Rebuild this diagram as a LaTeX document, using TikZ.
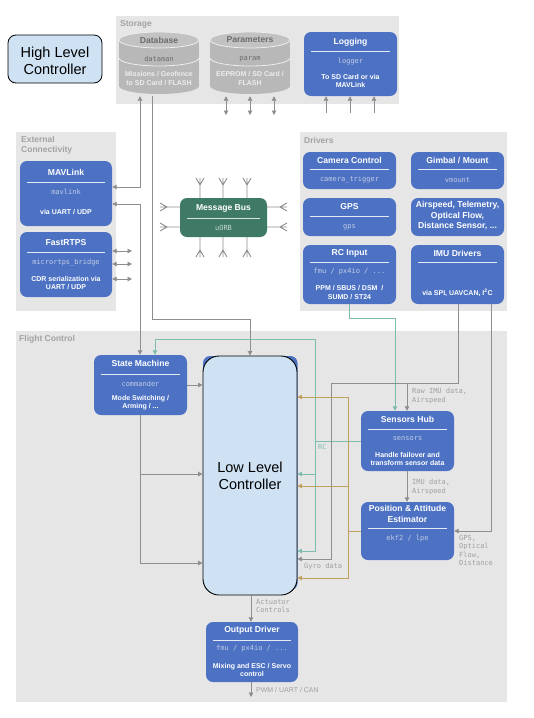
\documentclass[tikz,border=0pt]{standalone}
\usepackage{fontspec}
\setmainfont{Liberation Sans}
\setmonofont{DejaVu Sans Mono}
\usetikzlibrary{arrows.meta}
\definecolor{boxblue}{HTML}{4D72C3}
\definecolor{busgreen}{HTML}{3E7A66}
\definecolor{grpbg}{HTML}{E6E6E6}
\definecolor{grplc}{HTML}{A3A3A3}
\definecolor{lnc}{HTML}{8E8E8E}
\definecolor{tealc}{HTML}{7DBDB0}
\definecolor{goldc}{HTML}{BFA15E}
\definecolor{monoc}{HTML}{C3CCE6}
\definecolor{elc}{HTML}{A0A0A0}
\definecolor{llcfill}{HTML}{CFE2F3}
\definecolor{cylbody}{HTML}{B8B8B8}
\definecolor{cyltop}{HTML}{C2C2C2}
\definecolor{cyltxt}{HTML}{6B6B6B}
\definecolor{cyllow}{HTML}{EDEDED}
\begin{document}
\begin{tikzpicture}[x=1pt,y=-1pt,
  >={Triangle[length=4.5pt,width=4.5pt]},
  blk/.style={fill=boxblue, rounded corners=7pt, inner sep=0pt},
  bus/.style={fill=busgreen, rounded corners=7pt, inner sep=0pt},
  ttl/.style={text=white, font=\fontsize{8.6}{10.5}\selectfont\bfseries, inner sep=0pt, align=center},
  mono/.style={text=monoc, font=\ttfamily\fontsize{7}{8}\selectfont, inner sep=0pt},
  dsc/.style={text=white, font=\fontsize{7}{8.2}\selectfont\bfseries, inner sep=0pt, align=center},
  sepl/.style={draw=white!85!boxblue, line width=0.8pt},
  elbl/.style={text=elc, font=\ttfamily\fontsize{7}{8.3}\selectfont, inner sep=0pt, align=left, anchor=west},
  grpl/.style={text=grplc, font=\fontsize{8.5}{10}\selectfont\bfseries, inner sep=0pt, anchor=west, align=left},
  cylt/.style={text=cyltxt, font=\fontsize{8.6}{10}\selectfont\bfseries, inner sep=0pt},
  cylm/.style={text=cyltxt, font=\ttfamily\fontsize{7}{8}\selectfont, inner sep=0pt},
  cyld/.style={text=cyllow, font=\fontsize{7}{8.6}\selectfont\bfseries, inner sep=0pt, align=center},
  gl/.style={draw=lnc, line width=0.9pt},
  tl/.style={draw=tealc, line width=0.9pt},
  gd/.style={draw=goldc, line width=0.9pt},
  big/.style={font=\fontsize{14.5}{17.5}\selectfont, align=center, inner sep=0pt}
]
\useasboundingbox (0,0) rectangle (534,718);
\fill[white] (0,0) rectangle (534,718);

% ---------- groups ----------
\fill[grpbg] (116,16) rectangle (399,104);
\node[grpl] (gsto) at (120,24) {Storage};
\fill[grpbg] (16,132) rectangle (116,311);
\node[grpl] (gext) at (21,145) {External\\Connectivity};
\fill[grpbg] (300,132) rectangle (507,311);
\node[grpl] (gdrv) at (304,140) {Drivers};
\fill[grpbg] (16,331) rectangle (507,702);
\node[grpl] (gfc) at (19,339) {Flight Control};

% ---------- High level controller ----------
\node[draw=black, line width=0.8pt, fill=llcfill, rounded corners=8pt, minimum width=94pt, minimum height=48pt, inner sep=0pt] (hlc) at (55,59) {};
\node[big] (hlct) at (55,61) {High Level\\Controller};

% ---------- cylinders ----------
\foreach \cx/\nm in {159/db,250/par} {
  \fill[cylbody] (\cx-40,40) rectangle (\cx+40,86);
  \fill[cylbody] (\cx,86) ellipse[x radius=40, y radius=8];
  \begin{scope}
    \clip (\cx-41,58) rectangle (\cx+41,68);
    \draw[white!75!cylbody, line width=0.8pt] (\cx,58) ellipse[x radius=40, y radius=8];
  \end{scope}
  \fill[cyltop, draw=white!75!cylbody, line width=0.8pt] (\cx,40) ellipse[x radius=40, y radius=8];
  \node[inner sep=0pt, minimum width=80pt, minimum height=64pt] (\nm) at (\cx,64) {};
}
\node[cylt] (dbt) at (159,40) {Database};
\node[cylm] (dbm) at (159,59) {dataman};
\node[cyld] (dbd) at (159,78.5) {Missions / Geofence\\to SD Card / FLASH};
\node[cylt] (part) at (250,40) {Parameters};
\node[cylm] (parm) at (250,59) {param};
\node[cyld] (pard) at (250,78.5) {EEPROM / SD Card /\\FLASH};

% ---------- Logging ----------
\node[blk, minimum width=93pt, minimum height=64pt] (log) at (350.5,64) {};
\node[ttl] (logt) at (350.5,42) {Logging};
\draw[sepl] (311,51) -- (390,51);
\node[mono] (logm) at (350.5,62) {logger};
\node[dsc] (logd) at (350.5,81) {To SD Card or via\\MAVLink};

% ---------- External connectivity ----------
\node[blk, minimum width=92pt, minimum height=65pt] (mav) at (66,193.5) {};
\node[ttl] (mavt) at (66,172) {MAVLink};
\draw[sepl] (27,182) -- (105,182);
\node[mono] (mavm) at (66,192) {mavlink};
\node[dsc] (mavd) at (66,212) {via UART / UDP};

\node[blk, minimum width=92pt, minimum height=65pt] (fr) at (66,264.5) {};
\node[ttl] (frt) at (66,243) {FastRTPS};
\draw[sepl] (27,252) -- (105,252);
\node[mono] (frm) at (66,263) {micrortps\_bridge};
\node[dsc] (frd) at (66,283) {CDR serialization via\\UART / UDP};

% ---------- Message bus ----------
\node[bus, minimum width=87pt, minimum height=39pt] (mb) at (223.5,217.5) {};
\node[ttl] (mbt) at (223.5,208) {Message Bus};
\draw[draw=white!80!busgreen, line width=0.8pt] (187,218) -- (260,218);
\node[mono, text=white!70!busgreen] (mbm) at (223.5,228) {uORB};

% ---------- Drivers ----------
\node[blk, minimum width=93pt, minimum height=37pt] (cam) at (349.5,170.5) {};
\node[ttl] (camt) at (349.5,160) {Camera Control};
\draw[sepl] (310,169) -- (389,169);
\node[mono] (camm) at (349.5,180) {camera\_trigger};

\node[blk, minimum width=93pt, minimum height=37pt] (gim) at (457.5,170.5) {};
\node[ttl] (gimt) at (457.5,160) {Gimbal / Mount};
\draw[sepl] (418,169) -- (497,169);
\node[mono] (gimm) at (457.5,180) {vmount};

\node[blk, minimum width=93pt, minimum height=38pt] (gps) at (349.5,217) {};
\node[ttl] (gpst) at (349.5,207) {GPS};
\draw[sepl] (310,216) -- (389,216);
\node[mono] (gpsm) at (349.5,227) {gps};

\node[blk, minimum width=93pt, minimum height=38pt] (air) at (457.5,217) {};
\node[ttl] (airt) at (457.5,216) {Airspeed, Telemetry,\\Optical Flow,\\Distance Sensor, ...};

\node[blk, minimum width=93pt, minimum height=59pt] (rc) at (349.5,274.5) {};
\node[ttl] (rct) at (349.5,253) {RC Input};
\draw[sepl] (310,262) -- (389,262);
\node[mono] (rcm) at (349.5,272) {fmu / px4io / ...};
\node[dsc] (rcd) at (349.5,292.5) {PPM / SBUS / DSM~ /\\SUMD / ST24};

\node[blk, minimum width=93pt, minimum height=59pt] (imu) at (457.5,274.5) {};
\node[ttl] (imut) at (457.5,253) {IMU Drivers};
\draw[sepl] (418,262) -- (497,262);
\node[dsc] (imud) at (457.5,293) {via SPI, UAVCAN, I\textsuperscript{2}C};

% ---------- Flight control ----------
\node[blk, minimum width=93pt, minimum height=60pt] (sm) at (140.5,385) {};
\node[ttl] (smt) at (140.5,363) {State Machine};
\draw[sepl] (101,374) -- (180,374);
\node[mono] (smm) at (140.5,384) {commander};
\node[dsc] (smd) at (140.5,403) {Mode Switching /\\Arming / ...};

\fill[boxblue, rounded corners=7pt] (203,390) -- (203,356) -- (297.5,356) -- (297.5,590) -- (250,590) -- cycle;
\node[draw=black, line width=0.9pt, fill=llcfill, rounded corners=16pt, minimum width=94pt, minimum height=239pt, inner sep=0pt] (llc) at (250,475.5) {};
\node[big] (llct) at (250,476) {Low Level\\Controller};

\node[blk, minimum width=93pt, minimum height=60pt] (sh) at (407.5,441) {};
\node[ttl] (sht) at (407.5,419) {Sensors Hub};
\draw[sepl] (368,429) -- (447,429);
\node[mono] (shm) at (407.5,439) {sensors};
\node[dsc] (shd) at (407.5,459) {Handle failover and\\transform sensor data};

\node[blk, minimum width=93pt, minimum height=58pt] (pe) at (407.5,531) {};
\node[ttl] (pet) at (407.5,514) {Position \& Attitude\\Estimator};
\draw[sepl] (368,528) -- (447,528);
\node[mono] (pem) at (407.5,539) {ekf2 / lpe};

\node[blk, minimum width=92pt, minimum height=60pt] (od) at (252,652) {};
\node[ttl] (odt) at (252,630) {Output Driver};
\draw[sepl] (213,640) -- (291,640);
\node[mono] (odm) at (252,649) {fmu / px4io / ...};
\node[dsc] (odd) at (252,670) {Mixing and ESC / Servo\\control};

% ---------- connectors: storage ----------
\draw[gl,<->] (mav.east |- 0,187) -| (db.south -| 140,0);
\draw[gl,<->] (mav.east |- 0,204) -| (sm.north -| 140,0);
\draw[gl,->] (db.south -| 152,0) |- (llc.north |- 0,319) -- (llc.north);
\foreach \x [count=\i] in {226,250,274} {
  \coordinate (pa\i) at (\x,115);
  \draw[gl,<->] (par.south -| \x,0) -- (pa\i);
}
\foreach \x [count=\i] in {326,350,374} {
  \coordinate (lg\i) at (\x,113);
  \draw[gl,->] (lg\i) -- (log.south -| \x,0);
}
\foreach \y [count=\i] in {251,264,279} {
  \coordinate (fe\i) at (132,\y);
  \draw[gl,<->] (fr.east |- 0,\y) -- (fe\i);
}

% ---------- message bus stubs ----------
\foreach \x in {200,223,247} {
  \draw[gl] (mb.north -| \x,0) -- (\x,178) (\x-4,178) -- (\x,185) -- (\x+4,178);
  \draw[gl] (mb.south -| \x,0) -- (\x,257) (\x-4,257) -- (\x,250) -- (\x+4,257);
}
\foreach \y in {207,227} {
  \draw[gl] (mb.west |- 0,\y) -- (160,\y) (160,\y-4) -- (167,\y) -- (160,\y+4);
  \draw[gl] (mb.east |- 0,\y) -- (287,\y) (287,\y-4) -- (280,\y) -- (287,\y+4);
}

% ---------- teal (RC) ----------
\draw[tl,->] (rc.south) -- (rc.south |- 0,318) -| (sh.north -| 395,0);
\draw[tl,->] (sh.west |- 0,441) -| (315,339) -| (sm.north -| 155,0);
\coordinate (tj) at (315,441);
\draw[tl,->] (tj) |- (llc.east |- 0,551);
\coordinate (tb) at (315,474);
\draw[tl,->] (tb) -- (llc.east |- 0,474);

% ---------- gray (IMU etc.) ----------
\draw[gl,->] (imu.south -| 458,0) |- (331,383) |- (llc.east |- 0,559);
\coordinate (rawj) at (407,383);
\draw[gl,->] (rawj) -- (sh.north -| 407,0);
\draw[gl,->] (imu.south -| 491,0) |- (pe.east |- 0,531);
\draw[gl,->] (sh.south -| 407,0) -- (pe.north -| 407,0);

% ---------- gold (estimator) ----------
\draw[gd,->] (pe.west |- 0,531) -| (348,397) -- (llc.east |- 0,397);
\coordinate (gj) at (348,531);
\draw[gd,->] (gj) |- (llc.east |- 0,578);
\coordinate (gm) at (348,486);
\draw[gd,->] (gm) -- (llc.east |- 0,486);

% ---------- state machine ----------
\draw[gl,->] (sm.east) -- (llc.west |- sm.east);
\draw[gl,->] (sm.south) |- (llc.west |- 0,563);
\coordinate (smj) at (sm.south |- 0,474);
\draw[gl,->] (smj) -- (llc.west |- 0,474);

% ---------- output ----------
\draw[gl,->] (llc.south -| 251,0) -- (od.north -| 251,0);
\coordinate (pwm) at (251,697);
\draw[gl,->] (od.south -| 251,0) -- (pwm);

% ---------- edge labels ----------
\node[elbl] (lraw) at (412,396) {Raw IMU data,\\Airspeed};
\node[elbl] (limu) at (412,487) {IMU data,\\Airspeed};
\node[elbl] (lgps) at (459,550.5) {GPS,\\Optical\\Flow,\\Distance};
\node[elbl] (lgyro) at (304,567) {Gyro data};
\node[elbl, text=tealc] (lrc) at (318,447) {RC};
\node[elbl] (lact) at (256,606) {Actuator\\Controls};
\node[elbl, font=\fontsize{7}{8}\selectfont] (lpwm) at (256,690) {PWM / UART / CAN};
\end{tikzpicture}
\end{document}
